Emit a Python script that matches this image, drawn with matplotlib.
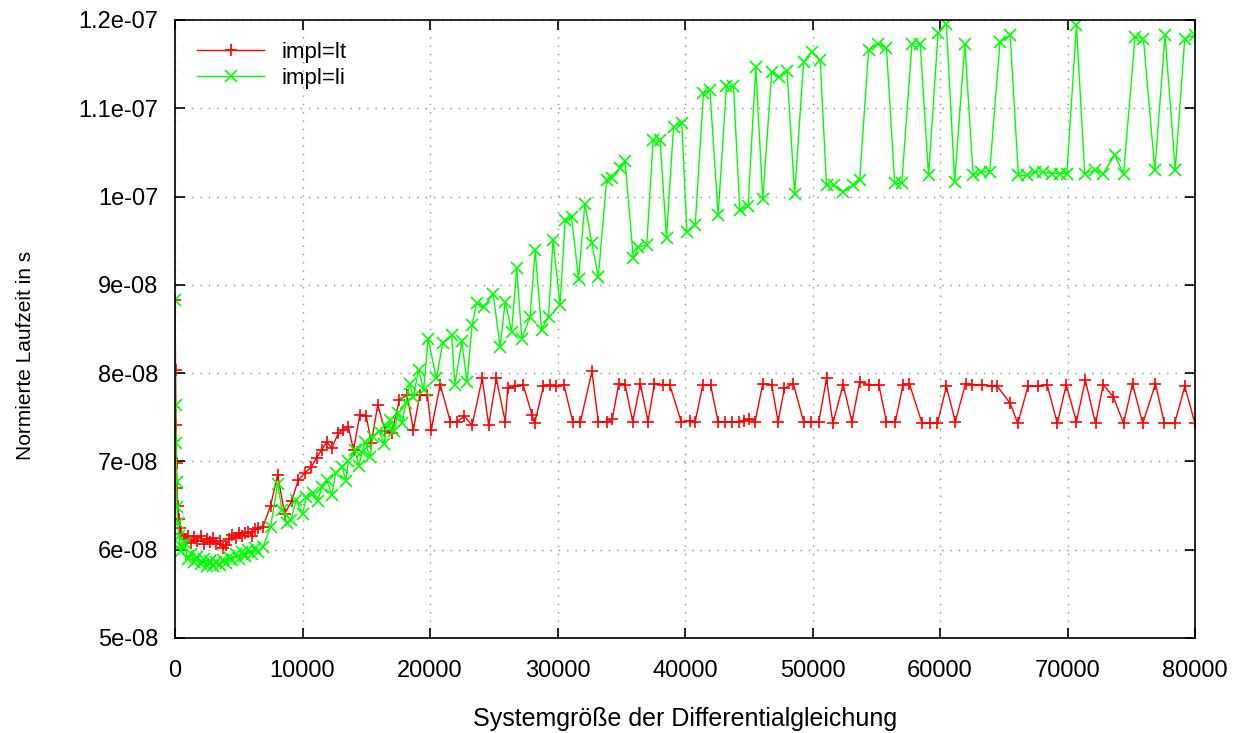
import numpy as np
import matplotlib
matplotlib.use("Agg")
import matplotlib.pyplot as plt


# =========================
# 1. Messdaten (Laufzeit in 1e-8 s)
# =========================
x_lt = [
    10, 40, 80, 120, 160, 200, 300, 400, 500, 750,
    1000, 1250, 1500, 1750, 2000, 2250, 2500, 2750, 3000, 3250,
    3500, 3750, 4000, 4250, 4500, 4750, 5000, 5250, 5500, 5750,
    6000, 6250, 6500, 6900, 7500, 8050, 8600, 9150, 9670, 10200,
    10700, 11100, 11500, 11900, 12300, 12800, 13200, 13600, 14000, 14500,
    15000, 15400, 15900, 16500, 17000, 17600, 18200, 18700, 19200, 19800,
    20100, 20800, 21600, 22100, 22700, 23300, 24100, 24600, 25200, 25900,
    26100, 26700, 27300, 28000, 28200, 28900, 29400, 29900, 30500, 31200,
    31800, 32700, 33200, 33900, 34300, 34800, 35300, 35900, 36500, 37100,
    37600, 38300, 38800, 39700, 40400, 40800, 41400, 42000, 42600, 43100,
    43700, 44200, 44600, 45000, 45500, 46100, 46800, 47300, 47800, 48500,
    49300, 49900, 50500, 51100, 51600, 52400, 53100, 53700, 54400, 55200,
    55800, 56500, 57100, 57600, 58600, 59200, 59800, 60500, 61200, 62000,
    62500, 63300, 64100, 64500, 65500, 66100, 66900, 67700, 68400, 69200,
    69900, 70700, 71400, 72200, 72800, 73600, 74400, 75100, 75900, 76900,
    77600, 78400, 79200, 80000,
]
t_lt = [
    8.83, 8.03, 7.41, 6.98, 6.70, 6.50, 6.35, 6.25, 6.18, 6.12,
    6.16, 6.08, 6.14, 6.10, 6.15, 6.07, 6.12, 6.09, 6.13, 6.06,
    6.10, 6.02, 6.05, 6.12, 6.17, 6.13, 6.19, 6.15, 6.19, 6.20,
    6.16, 6.23, 6.25, 6.26, 6.50, 6.85, 6.41, 6.55, 6.79, 6.87,
    6.94, 7.04, 7.13, 7.22, 7.15, 7.32, 7.36, 7.39, 7.13, 7.53,
    7.51, 7.21, 7.64, 7.34, 7.32, 7.70, 7.75, 7.36, 7.75, 7.75,
    7.36, 7.87, 7.45, 7.45, 7.51, 7.41, 7.94, 7.41, 7.94, 7.45,
    7.83, 7.85, 7.87, 7.53, 7.43, 7.85, 7.87, 7.85, 7.87, 7.45,
    7.45, 8.02, 7.45, 7.45, 7.48, 7.88, 7.87, 7.45, 7.88, 7.45,
    7.88, 7.87, 7.87, 7.45, 7.46, 7.45, 7.87, 7.87, 7.45, 7.45,
    7.45, 7.45, 7.46, 7.48, 7.45, 7.88, 7.87, 7.45, 7.83, 7.88,
    7.45, 7.45, 7.45, 7.94, 7.43, 7.87, 7.45, 7.90, 7.87, 7.87,
    7.45, 7.45, 7.87, 7.88, 7.43, 7.43, 7.43, 7.85, 7.45, 7.88,
    7.87, 7.87, 7.85, 7.85, 7.66, 7.43, 7.85, 7.85, 7.87, 7.43,
    7.87, 7.45, 7.92, 7.43, 7.87, 7.73, 7.43, 7.88, 7.43, 7.88,
    7.43, 7.43, 7.85, 7.43,
]

x_li = [
    10, 40, 80, 120, 160, 200, 300, 400, 500, 750,
    1000, 1250, 1500, 1750, 2000, 2250, 2500, 2750, 3000, 3250,
    3500, 3750, 4000, 4250, 4500, 4750, 5000, 5250, 5500, 5750,
    6000, 6250, 6500, 6900, 7500, 8050, 8400, 8800, 9100, 9500,
    10000, 10300, 10800, 11200, 11500, 11900, 12300, 12600, 13100, 13400,
    13600, 14100, 14400, 14700, 14900, 15300, 15500, 16000, 16400, 16600,
    16900, 17200, 17500, 17800, 18100, 18400, 18700, 19100, 19500, 19850,
    20500, 21000, 21700, 21950, 22500, 22900, 23300, 23650, 24200, 24950,
    25500, 25900, 26400, 26800, 27200, 27850, 28250, 28750, 29300, 29650,
    30200, 30600, 31100, 31650, 32150, 32700, 33200, 33850, 34250, 34900,
    35300, 35950, 36350, 37000, 37500, 38050, 38550, 39100, 39750, 40150,
    40800, 41450, 41950, 42600, 43250, 43800, 44300, 44950, 45550, 46100,
    46800, 47400, 48000, 48600, 49300, 49950, 50600, 51100, 51650, 52400,
    53200, 53700, 54400, 55150, 55800, 56450, 57000, 57800, 58450, 59100,
    59850, 60500, 61150, 61950, 62600, 63250, 63900, 64700, 65500, 66150,
    66800, 67450, 68100, 68750, 69400, 69950, 70700, 71350, 72150, 72800,
    73700, 74400, 75300, 75950, 76850, 77650, 78450, 79200, 80000,
]
t_li = [
    8.83, 7.64, 7.21, 6.77, 6.48, 6.30, 6.15, 6.05, 5.98, 6.08,
    5.90, 5.95, 5.86, 5.92, 5.84, 5.89, 5.82, 5.87, 5.81, 5.86,
    5.83, 5.88, 5.85, 5.92, 5.88, 5.95, 5.90, 5.97, 5.93, 6.00,
    5.95, 6.02, 5.97, 6.03, 6.26, 6.75, 6.45, 6.30, 6.34, 6.56,
    6.40, 6.60, 6.64, 6.55, 6.71, 6.79, 6.62, 6.87, 6.94, 6.78,
    7.00, 7.13, 6.95, 7.11, 7.22, 7.05, 7.28, 7.34, 7.20, 7.39,
    7.47, 7.35, 7.55, 7.43, 7.66, 7.88, 7.73, 8.04, 7.81, 8.39,
    7.94, 8.34, 8.43, 7.87, 8.36, 7.90, 8.54, 8.79, 8.75, 8.90,
    8.30, 8.81, 8.47, 9.19, 8.39, 8.64, 9.39, 8.49, 8.64, 9.51,
    8.77, 9.73, 9.77, 9.07, 9.92, 9.47, 9.09, 10.19, 10.21, 10.32,
    10.40, 9.30, 9.43, 9.45, 10.64, 10.64, 9.53, 10.79, 10.83, 9.60,
    9.68, 11.17, 11.21, 9.79, 11.25, 11.25, 9.85, 9.89, 11.47, 9.97,
    11.41, 11.35, 11.42, 10.03, 11.52, 11.64, 11.55, 10.13, 10.13, 10.05,
    10.13, 10.19, 11.66, 11.73, 11.68, 10.15, 10.15, 11.73, 11.73, 10.24,
    11.85, 11.96, 10.17, 11.73, 10.24, 10.28, 10.28, 11.75, 11.83, 10.24,
    10.24, 10.28, 10.28, 10.26, 10.26, 10.26, 11.94, 10.26, 10.30, 10.26,
    10.47, 10.26, 11.81, 11.79, 10.30, 11.83, 10.30, 11.79, 11.83,
]

x_ticks = [0, 10000, 20000, 30000, 40000, 50000, 60000, 70000, 80000]
y_ticks = [5e-08, 6e-08, 7e-08, 8e-08, 9e-08, 1e-07, 1.1e-07, 1.2e-07]
y_tick_labels = ["5e-08", "6e-08", "7e-08", "8e-08", "9e-08", "1e-07", "1.1e-07", "1.2e-07"]


# =========================
# 2. Plot
# =========================
plt.rcParams["font.family"] = ["Liberation Sans", "DejaVu Sans"]

fig = plt.figure(figsize=(12.39, 7.33), dpi=100)
ax = fig.add_axes([175 / 1239, 1 - 638 / 733, 1020 / 1239, 618 / 733])

ax.plot(x_lt, np.array(t_lt) * 1e-8, color="#ff0000", lw=1.0,
        marker="+", ms=9, mew=1.2, label="impl=lt")
ax.plot(x_li, np.array(t_li) * 1e-8, color="#00ff00", lw=1.0,
        marker="x", ms=8, mew=1.2, label="impl=li")

ax.set_xlim(0, 80000)
ax.set_ylim(5e-08, 1.2e-07)
ax.set_xticks(x_ticks)
ax.set_xticklabels([str(t) for t in x_ticks])
ax.set_yticks(y_ticks)
ax.set_yticklabels(y_tick_labels)

ax.tick_params(direction="in", length=7, width=1.2, labelsize=17,
               top=True, right=True, color="black")
ax.tick_params(axis="x", pad=16)
ax.tick_params(axis="y", pad=12)

ax.grid(True, color="#909090", linestyle=(0, (1, 5)), linewidth=1.0)
for s in ax.spines.values():
    s.set_linewidth(1.2)
    s.set_color("black")

ax.set_xlabel("Systemgröße der Differentialgleichung", fontsize=18)
ax.set_ylabel("Normierte Laufzeit in s", fontsize=15)
ax.xaxis.set_label_coords(0.5, -0.112)
ax.yaxis.set_label_coords(-0.137, 0.458)

ax.legend(loc="upper left", frameon=False, fontsize=16, handlelength=3.0,
          borderaxespad=0.6, labelspacing=0.2, handletextpad=0.8)

fig.savefig("out.png", dpi=100)
